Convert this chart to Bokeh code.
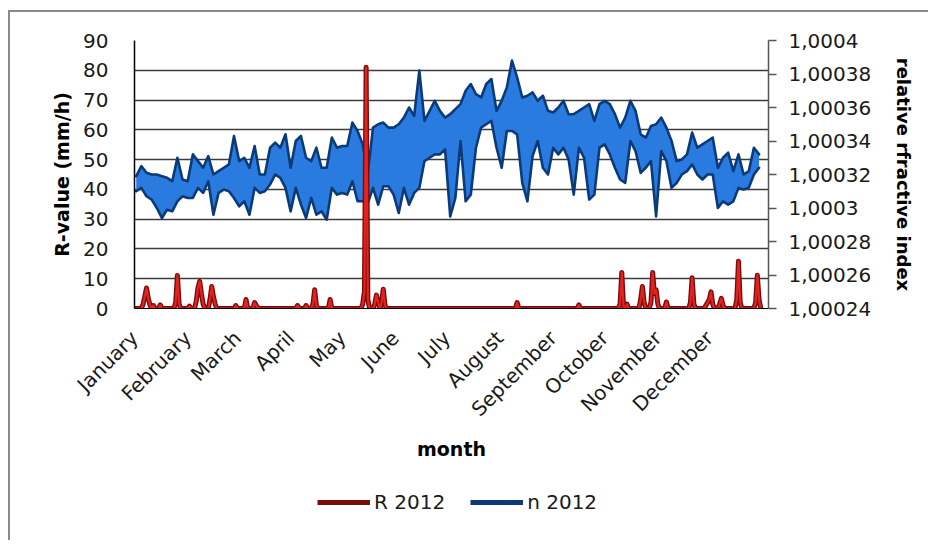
import math
from bokeh.plotting import figure
from bokeh.layouts import column
from bokeh.models import (Range1d, LinearAxis, FixedTicker, CustomJSTickFormatter,
                          Legend, LegendItem)
from bokeh.embed import file_html
from bokeh.resources import INLINE

# ---------------- data ----------------
months = ["January", "February", "March", "April", "May", "June", "July",
          "August", "September", "October", "November", "December"]
month_start_day = [0, 31, 60, 91, 121, 152, 182, 213, 244, 274, 305, 335]

# n 2012 : upper / lower envelope of the (hourly) series in 3-day bins,
# given as N-units, N = (n - 1) * 1e6
n_bin_day = list(range(0, 366, 3))
n_high = [319, 325, 321, 320, 320, 319, 318, 316, 330, 317,
          316, 332, 328, 324, 331, 320, 322, 324, 326, 343,
          328, 330, 324, 337, 320, 320, 336, 339, 336, 344,
          324, 340, 343, 330, 328, 336, 324, 324, 342, 336,
          337, 337, 351, 346, 338, 321, 348, 350, 351, 348,
          348, 350, 354, 360, 355, 382, 352, 358, 364, 358,
          354, 356, 359, 362, 370, 374, 368, 366, 374, 377,
          358, 364, 372, 388, 378, 366, 367, 369, 364, 367,
          358, 357, 360, 364, 356, 356, 358, 360, 362, 352,
          362, 364, 362, 356, 348, 354, 364, 358, 344, 342,
          349, 350, 354, 348, 340, 328, 329, 332, 345, 336,
          338, 340, 342, 324, 330, 333, 322, 332, 320, 322,
          336, 332]
n_low = [310, 312, 307, 305, 300, 294, 299, 298, 304, 307,
         306, 306, 312, 309, 316, 296, 309, 311, 310, 306,
         301, 304, 296, 312, 309, 310, 314, 320, 318, 312,
         298, 312, 302, 294, 306, 296, 298, 293, 312, 308,
         309, 308, 316, 304, 304, 303, 312, 302, 313, 313,
         308, 297, 312, 302, 309, 312, 328, 330, 332, 332,
         335, 295, 306, 340, 304, 308, 336, 348, 350, 352,
         336, 324, 346, 346, 344, 315, 304, 331, 340, 324,
         320, 336, 332, 336, 329, 308, 336, 330, 305, 308,
         336, 338, 332, 324, 317, 315, 340, 334, 321, 324,
         328, 295, 334, 328, 312, 315, 320, 322, 326, 320,
         317, 320, 320, 300, 304, 302, 304, 312, 311, 312,
         320, 324]

# R 2012 : rain rate (mm/h), days with rain (all other days 0)
r_day = [5, 6, 7, 8, 9, 11, 15, 24, 25, 26, 32, 36, 37, 38, 39, 40,
         44, 45, 46, 47, 59, 65, 70, 71, 95, 100, 104, 105, 106, 114,
         133, 134, 135, 136, 140, 141, 142, 144, 145, 146,
         223, 259, 283, 284, 285, 287, 295, 296, 297,
         301, 302, 303, 304, 305, 310, 324, 325, 326,
         333, 334, 335, 336, 337, 341, 342, 343, 351, 352, 353,
         362, 363, 364]
r_value = [1.5, 4, 6.9, 3.5, 1.2, 1.0, 1.2, 2, 11.1, 1.5, 0.8, 2.5, 7, 9.1, 5, 1.5,
           3, 7.4, 4, 1.5, 1.0, 3.0, 2.0, 1.0, 1.0, 1.0, 1.5, 6.3, 1.0, 3.0,
           1.5, 5.7, 81, 3, 1.5, 4.5, 2, 2, 6.5, 1,
           2.0, 1.2, 1.5, 12.1, 1, 1.5, 3, 7.4, 2,
           2, 12.1, 5, 6.3, 1.5, 2.2, 2, 10.3, 1.5,
           1, 2, 3, 5.6, 1.5, 1.5, 3.4, 1, 3, 15.9, 2,
           2, 11.2, 3]

n_tick_values = [1.00024, 1.00026, 1.00028, 1.0003, 1.00032,
                 1.00034, 1.00036, 1.00038, 1.0004]
r_tick_values = [0, 10, 20, 30, 40, 50, 60, 70, 80, 90]

# ---------------- derived drawing sources ----------------
x_n = [d + 1.0 for d in n_bin_day]
n_hi = [1 + v * 1e-6 for v in n_high]
n_lo = [1 + v * 1e-6 for v in n_low]

days = list(range(366))
r_full = [0.0] * 366
for d, v in zip(r_day, r_value):
    r_full[d] = v

FONT = "DejaVu Sans"
RED_DARK, RED_LIGHT = "#7d0a0a", "#e3231f"
BLUE_DARK, BLUE_LIGHT = "#0b3a78", "#2a7be0"

p = figure(width=918, height=468,
           x_range=Range1d(0, 369.5), y_range=Range1d(0, 90),
           output_backend="svg", toolbar_location=None,
           min_border_left=124, min_border_right=160, min_border_top=28,
           min_border_bottom=172)
p.extra_y_ranges = {"n": Range1d(1.00024, 1.0004)}
p.outline_line_color = None
p.background_fill_color = "white"
p.border_fill_color = "white"

# grid
p.xgrid.visible = False
p.ygrid.grid_line_color = "#3c3c3c"
p.ygrid.grid_line_width = 1.5

# left axis
p.yaxis.ticker = FixedTicker(ticks=r_tick_values)
p.yaxis.axis_label = "R-value (mm/h)"
p.yaxis.axis_label_text_font = FONT
p.yaxis.axis_label_text_font_style = "bold"
p.yaxis.axis_label_text_font_size = "19px"
p.yaxis.axis_label_text_color = "black"
p.yaxis.axis_label_standoff = 7
p.yaxis.major_label_text_font = FONT
p.yaxis.major_label_text_font_size = "20px"
p.yaxis.major_label_text_color = "#1a1a1a"
p.yaxis.major_tick_out = 0
p.yaxis.major_tick_in = 0
p.yaxis.minor_tick_out = 0
p.yaxis.minor_tick_in = 0
p.yaxis.major_label_standoff = 26
p.yaxis.axis_line_color = "black"
p.yaxis.axis_line_width = 1.5

# bottom axis
p.xaxis.ticker = FixedTicker(ticks=month_start_day)
p.xaxis.formatter = CustomJSTickFormatter(
    args=dict(days=month_start_day, names=months),
    code="const i = days.indexOf(tick); return i >= 0 ? names[i] : '';")
p.xaxis.major_label_orientation = math.pi / 4
p.xaxis.major_label_text_font = FONT
p.xaxis.major_label_text_font_size = "20px"
p.xaxis.major_label_text_color = "#1a1a1a"
p.xaxis.major_label_standoff = 26
p.xaxis.major_tick_out = 0
p.xaxis.major_tick_in = 0
p.xaxis.minor_tick_out = 0
p.xaxis.minor_tick_in = 0
p.xaxis.axis_line_color = "black"
p.xaxis.axis_label = "month"
p.xaxis.axis_label_text_font = FONT
p.xaxis.axis_label_text_font_style = "bold"
p.xaxis.axis_label_text_font_size = "19px"
p.xaxis.axis_label_text_color = "black"
p.xaxis.axis_label_standoff = 5

# right axis
ax_r = LinearAxis(y_range_name="n", ticker=FixedTicker(ticks=n_tick_values),
                  formatter=CustomJSTickFormatter(
                      code="return tick.toFixed(5).replace(/0+$/, '').replace('.', ',');"),
                  axis_label="relative rfractive index")
ax_r.axis_label_text_font = FONT
ax_r.axis_label_text_font_style = "bold"
ax_r.axis_label_text_font_size = "18px"
ax_r.axis_label_text_color = "black"
ax_r.axis_label_standoff = 19
ax_r.major_label_text_font = FONT
ax_r.major_label_text_font_size = "20px"
ax_r.major_label_text_color = "#1a1a1a"
ax_r.major_tick_out = 8
ax_r.major_tick_in = 0
ax_r.minor_tick_out = 0
ax_r.minor_tick_in = 0
ax_r.major_label_standoff = 12
ax_r.axis_line_color = "#555555"
ax_r.axis_line_width = 1.5
ax_r.major_tick_line_color = "#555555"
ax_r.major_tick_line_width = 1.5
p.add_layout(ax_r, "right")

# series: n 2012 (right axis): light band with dark rim
p.varea(x=x_n, y1=n_lo, y2=n_hi, y_range_name="n", fill_color=BLUE_LIGHT)
p.line(x_n, n_hi, y_range_name="n", line_color=BLUE_DARK, line_width=2.6,
       line_join="round", line_cap="round")
p.line(x_n, n_lo, y_range_name="n", line_color=BLUE_DARK, line_width=2.6,
       line_join="round", line_cap="round")

# series: R 2012 (left axis)
p.line(days, r_full, line_color=RED_DARK, line_width=5,
       line_join="round", line_cap="round")
p.line(days, r_full, line_color=RED_LIGHT, line_width=2.2,
       line_join="round", line_cap="round")

# legend strip below the chart (series drawn out of view, only legend shows)
pl = figure(width=918, height=60, x_range=Range1d(0, 1), y_range=Range1d(-10, -5),
            output_backend="svg", toolbar_location=None,
            x_axis_type=None, y_axis_type=None,
            min_border_left=0, min_border_right=0, min_border_top=0, min_border_bottom=0)
pl.outline_line_color = None
pl.xgrid.visible = False
pl.ygrid.visible = False
pl.background_fill_color = "white"
pl.border_fill_color = "white"
leg_r = pl.line(days, r_full, line_color=RED_DARK, line_width=5)
leg_n = pl.line(x_n, n_hi, line_color=BLUE_DARK, line_width=5)
legend = Legend(items=[LegendItem(label="R 2012", renderers=[leg_r]),
                       LegendItem(label="n 2012", renderers=[leg_n])],
                location=(183, 26), orientation="horizontal",
                glyph_width=53, glyph_height=20, label_height=20,
                label_standoff=4, spacing=25, padding=0, margin=0,
                border_line_color=None, background_fill_alpha=0,
                label_text_font=FONT, label_text_font_size="20px",
                label_text_color="#1a1a1a")
pl.add_layout(legend)

layout = column(p, pl, spacing=0,
                styles={"margin-left": "8px", "margin-top": "10px",
                        "border-left": "2px solid #8a8a8a",
                        "border-top": "2px solid #8a8a8a"})

open("out.html", "w").write(file_html(layout, INLINE))
